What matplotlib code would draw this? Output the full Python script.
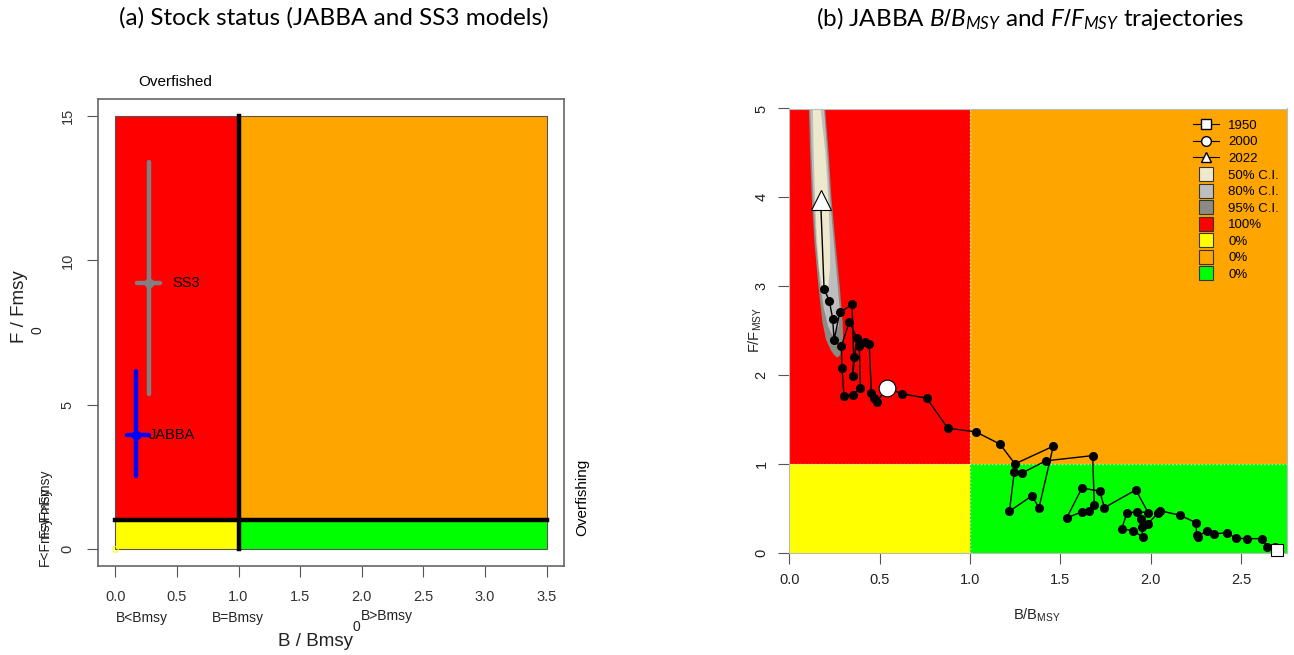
import matplotlib.pyplot as plt
from matplotlib.lines import Line2D
from matplotlib.patches import Rectangle

plt.rcParams["font.family"] = ["Liberation Sans", "DejaVu Sans"]
plt.rcParams["mathtext.fontset"] = "custom"
plt.rcParams["mathtext.rm"] = "Liberation Sans"
plt.rcParams["mathtext.it"] = "Lato:italic"

W, H = 1294, 655

# ---- panel (a) data: stock status of both models ----
models = ["JABBA", "SS3"]
model_colors = ["blue", "gray"]
model_b = [0.165, 0.27]
model_b_lo = [0.095, 0.18]
model_b_hi = [0.27, 0.36]
model_f = [3.96, 9.22]
model_f_lo = [2.51, 5.37]
model_f_hi = [6.18, 13.41]
a_bmax = 3.5
a_fmax = 15

# ---- panel (b) data: JABBA trajectory 1950 -> 2022 ----
traj_b = [2.702, 2.690, 2.645, 2.619, 2.532, 2.473, 2.421, 2.353, 2.311, 2.261,
          2.255, 2.251, 2.163, 2.052, 2.039, 1.984, 1.954, 1.947, 1.955, 1.901,
          1.840, 1.868, 1.923, 1.986, 1.918, 1.744, 1.718, 1.620, 1.535, 1.622,
          1.659, 1.688, 1.679, 1.419, 1.286, 1.245, 1.218, 1.342, 1.382, 1.461,
          1.249, 1.166, 1.032, 0.877, 0.760, 0.625, 0.539, 0.483, 0.468, 0.454,
          0.442, 0.420, 0.387, 0.393, 0.354, 0.302, 0.291, 0.287, 0.332, 0.373,
          0.350, 0.356, 0.347, 0.279, 0.247, 0.240, 0.221, 0.192, 0.173]
traj_f = [0.028, 0.065, 0.065, 0.156, 0.156, 0.160, 0.223, 0.209, 0.246, 0.178,
          0.197, 0.336, 0.419, 0.471, 0.442, 0.321, 0.284, 0.374, 0.178, 0.246,
          0.268, 0.442, 0.460, 0.449, 0.705, 0.505, 0.690, 0.727, 0.389, 0.460,
          0.471, 0.536, 1.091, 1.032, 0.893, 0.904, 0.464, 0.637, 0.505, 1.197,
          0.998, 1.220, 1.359, 1.400, 1.738, 1.787, 1.855, 1.693, 1.745, 1.795,
          2.343, 2.365, 2.328, 1.855, 1.779, 1.768, 2.083, 2.320, 2.599, 2.418,
          1.982, 2.196, 2.794, 2.703, 2.392, 2.629, 2.835, 2.967, 3.966]
marked_years = ["1950", "2000", "2022"]
marked_idx = [0, 46, 68]
marked_shapes = ["s", "o", "^"]
marked_sizes = [9, 12, 14]

# confidence regions of the final year (F level, left B, right B)
ci95_f = [5.3, 5.0, 4.5, 4.0, 3.5, 3.0, 2.6, 2.4, 2.28, 2.23, 2.2]
ci95_lo = [0.100, 0.105, 0.112, 0.121, 0.136, 0.158, 0.180, 0.200, 0.228, 0.245, 0.262]
ci95_hi = [0.188, 0.195, 0.215, 0.230, 0.252, 0.276, 0.292, 0.295, 0.290, 0.280, 0.262]
ci80_f = [5.3, 5.0, 4.5, 4.0, 3.5, 3.0, 2.75, 2.55, 2.45]
ci80_lo = [0.108, 0.113, 0.120, 0.130, 0.145, 0.168, 0.188, 0.212, 0.235]
ci80_hi = [0.182, 0.189, 0.207, 0.222, 0.243, 0.265, 0.276, 0.270, 0.235]
ci50_f = [5.3, 5.0, 4.5, 4.0, 3.5, 3.2, 3.0, 2.93]
ci50_lo = [0.124, 0.127, 0.132, 0.139, 0.150, 0.162, 0.178, 0.192]
ci50_hi = [0.162, 0.170, 0.197, 0.212, 0.222, 0.222, 0.212, 0.192]
ci_labels = ["50% C.I.", "80% C.I.", "95% C.I."]
ci_colors = ["#EEE8CD", "#BEBEBE", "#8B8B83"]

quad_colors = ["red", "yellow", "orange", "#00FF00"]
quad_pct = ["100%", "0%", "0%", "0%"]

fig = plt.figure(figsize=(W / 100, H / 100), dpi=100)


def px_axes(left, top, right, bottom):
    return fig.add_axes([left / W, 1 - bottom / H, (right - left) / W, (bottom - top) / H])


# ================= panel (a) =================
ax1 = px_axes(98, 99, 564, 566)
ax1.set_xlim(-0.14, 3.64)
ax1.set_ylim(-0.6, 15.6)
ax1.add_patch(Rectangle((0, 1), 1, a_fmax - 1, fc="red", ec="#555555", lw=0.8))
ax1.add_patch(Rectangle((1, 1), a_bmax - 1, a_fmax - 1, fc="orange", ec="#555555", lw=0.8))
ax1.add_patch(Rectangle((0, 0), 1, 1, fc="yellow", ec="#555555", lw=0.8))
ax1.add_patch(Rectangle((1, 0), a_bmax - 1, 1, fc="#00FF00", ec="#555555", lw=0.8))
ax1.plot([1, 1], [0, a_fmax], color="black", lw=3.2)
ax1.plot([0, a_bmax], [1, 1], color="black", lw=3.2)
ax1.plot([0], [0], "o", mfc="none", mec="yellow", ms=4, mew=0.8)

for name, col, b, blo, bhi, f, flo, fhi in zip(models, model_colors, model_b, model_b_lo,
                                               model_b_hi, model_f, model_f_lo, model_f_hi):
    ax1.plot([b, b], [flo, fhi], color=col, lw=3.2, solid_capstyle="round")
    ax1.plot([blo, bhi], [f, f], color=col, lw=3.2, solid_capstyle="round")
    ax1.plot([b], [f], "o", color=col, ms=6)
ax1.text(model_b_hi[0], model_f[0], models[0], fontsize=10.5, va="center", ha="left")
ax1.text(model_b_hi[1] + 0.1, model_f[1], models[1], fontsize=10.5, va="center", ha="left")

ax1.set_xticks([0, 0.5, 1, 1.5, 2, 2.5, 3, 3.5])
ax1.set_xticklabels(["0.0", "0.5", "1.0", "1.5", "2.0", "2.5", "3.0", "3.5"])
ax1.set_yticks([0, 5, 10, 15])
ax1.set_yticklabels(["0", "5", "10", "15"], rotation=90, va="center")
ax1.tick_params(direction="out", length=8, color="#555555", labelsize=10.5,
                labelcolor="#333333", pad=9)
for s in ax1.spines.values():
    s.set_color("#666666")
    s.set_linewidth(1.2)

fig.text(175 / W, 1 - 82 / H, "Overfished", fontsize=11, ha="center", va="center")
fig.text(582 / W, 1 - 497 / H, "Overfishing", fontsize=11, rotation=90, ha="center", va="center")
fig.text(142 / W, 1 - 618 / H, "B<Bmsy", fontsize=10, ha="center", va="center", color="#222222")
fig.text(238 / W, 1 - 618 / H, "B=Bmsy", fontsize=10, ha="center", va="center", color="#222222")
fig.text(361 / W, 1 - 616 / H, "B>Bmsy", fontsize=10, ha="left", va="center", color="#222222")
fig.text(356 / W, 1 - 627 / H, "0", fontsize=10, ha="center", va="center", color="#222222")
fig.text(316 / W, 1 - 642 / H, "B / Bmsy", fontsize=13.5, ha="center", va="center", color="#222222")
fig.text(20 / W, 1 - 307 / H, "F / Fmsy", fontsize=13.5, rotation=90, ha="center", va="center",
         color="#222222")
fig.text(37 / W, 1 - 330 / H, "0", fontsize=10, rotation=90, ha="center", va="center", color="#222222")
fig.text(45 / W, 1 - 541 / H, "F<Fmsy", fontsize=10, rotation=90, ha="center", va="center", color="#222222")
fig.text(45 / W, 1 - 512 / H, "F=Fmsy", fontsize=10, rotation=90, ha="center", va="center", color="#222222")
fig.text(45 / W, 1 - 494 / H, "F>Fmsy", fontsize=10, rotation=90, ha="center", va="center", color="#222222")

fig.text(334 / W, 1 - 18 / H, "(a) Stock status (JABBA and SS3 models)", fontsize=17.5,
         family="Lato", ha="center", va="center")

# ================= panel (b) =================
ax2 = px_axes(789.4, 108.5, 1287, 552.5)
ax2.set_xlim(0, 2.755)
ax2.set_ylim(0, 5)
xmax = 2.755
ax2.add_patch(Rectangle((0, 1), 1, 4, fc="red", ec="none", zorder=0))
ax2.add_patch(Rectangle((1, 1), xmax - 1, 4, fc="orange", ec="none", zorder=0))
ax2.add_patch(Rectangle((0, 0), 1, 1, fc="yellow", ec="none", zorder=0))
ax2.add_patch(Rectangle((1, 0), xmax - 1, 1, fc="#00FF00", ec="none", zorder=0))
ax2.plot([1, 1], [0, 5], color="#dddddd", lw=1, ls=":", zorder=1)
ax2.plot([0, xmax], [1, 1], color="#dddddd", lw=1, ls=":", zorder=1)

ax2.fill_betweenx(ci95_f, ci95_lo, ci95_hi, color=ci_colors[2], lw=0, zorder=2)
ax2.fill_betweenx(ci80_f, ci80_lo, ci80_hi, color=ci_colors[1], lw=0, zorder=2)
ax2.fill_betweenx(ci50_f, ci50_lo, ci50_hi, color=ci_colors[0], lw=0, zorder=2)

ax2.plot(traj_b, traj_f, color="black", lw=1, marker="o", ms=5.5, zorder=3)
for i, m, ms in zip(marked_idx, marked_shapes, marked_sizes):
    ax2.plot([traj_b[i]], [traj_f[i]], marker=m, ms=ms, mfc="white", mec="black",
             mew=0.8, ls="none", zorder=4, clip_on=False)

ax2.set_xticks([0, 0.5, 1, 1.5, 2, 2.5])
ax2.set_xticklabels(["0.0", "0.5", "1.0", "1.5", "2.0", "2.5"])
ax2.set_yticks([0, 1, 2, 3, 4, 5])
ax2.set_yticklabels(["0", "1", "2", "3", "4", "5"], rotation=90, va="center")
ax2.tick_params(direction="out", length=8, color="#555555", labelsize=10.5,
                labelcolor="#222222", pad=7)
for s in ax2.spines.values():
    s.set_color("#bbbbbb")
    s.set_linewidth(0.8)

ax2.set_xlabel(r"B/B$_{\mathrm{MSY}}$", fontsize=10.5, color="#222222")
ax2.xaxis.set_label_coords(0.4976, -0.122)
ax2.set_ylabel(r"F/F$_{\mathrm{MSY}}$", fontsize=10.5, color="#222222")
ax2.yaxis.set_label_coords(-0.052, 0.5)

handles = []
for m in marked_shapes:
    handles.append(Line2D([], [], color="black", lw=0.8, marker=m, ms=7, mfc="white", mec="black"))
for c in ci_colors + quad_colors:
    handles.append(Line2D([], [], ls="none", marker="s", ms=10, mfc=c, mec="#333333", mew=0.8))
leg = ax2.legend(handles, marked_years + ci_labels + quad_pct, loc="upper right",
                 bbox_to_anchor=(1.0, 0.993), frameon=False, fontsize=9.5,
                 labelspacing=0.33, handlelength=2.0, handletextpad=0.7, borderaxespad=0.2)

fig.text(1030 / W, 1 - 18 / H, r"(b) JABBA $\mathit{B/B}_{\mathit{MSY}}$ and $\mathit{F/F}_{\mathit{MSY}}$ trajectories",
         fontsize=17.5, family="Lato", ha="center", va="center")

fig.savefig("out.png", dpi=100)
